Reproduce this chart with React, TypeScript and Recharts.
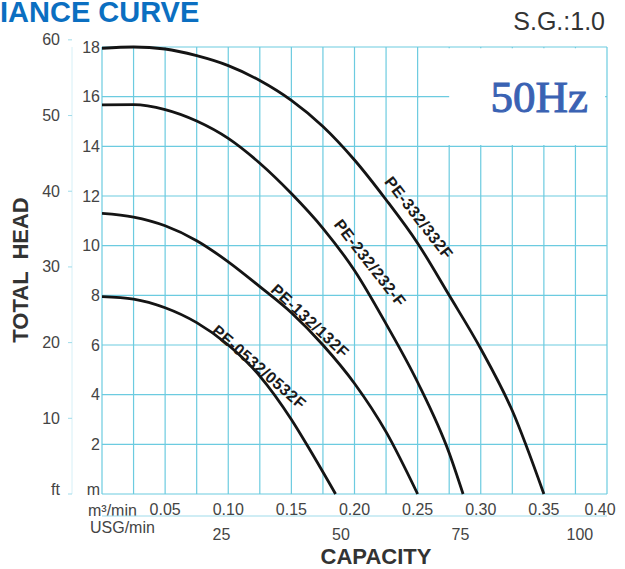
import React from 'react';
import {
  LineChart,
  Line,
  XAxis,
  YAxis,
  CartesianGrid,
  ReferenceArea,
  ReferenceLine,
  ReferenceDot,
} from 'recharts';

const GRID = '#6ccbe0';
const TEXT = '#444444';
const DARK = '#333333';
const FONT = '"Liberation Sans", Arial, Helvetica, sans-serif';

// ---- axes / ticks ----
const capacityGrid = [0, 0.025, 0.05, 0.075, 0.1, 0.125, 0.15, 0.175, 0.2, 0.225, 0.25, 0.275, 0.3, 0.325, 0.35, 0.375, 0.4];
const capacityLabels = [0.05, 0.1, 0.15, 0.2, 0.25, 0.3, 0.35, 0.4];
const usgTicks = [25, 50, 75, 100];
const usgRange = [0, 105.669]; // 0 .. 0.40 m3/min expressed in USG/min
const headMTicks = [0, 2, 4, 6, 8, 10, 12, 14, 16, 18];
const headFtTicks = [0, 10, 20, 30, 40, 50, 60];

// ---- series (capacity m3/min -> head m) ----
const q332 = [0, 0.025, 0.05, 0.075, 0.1, 0.125, 0.15, 0.175, 0.2, 0.225, 0.25, 0.275, 0.3, 0.325, 0.35];
const h332 = [17.95, 18.0, 17.92, 17.65, 17.25, 16.65, 15.85, 14.8, 13.45, 11.85, 10.1, 8.0, 5.85, 3.35, 0];

const q232 = [0, 0.025, 0.05, 0.075, 0.1, 0.125, 0.15, 0.175, 0.2, 0.225, 0.25, 0.275, 0.286];
const h232 = [15.67, 15.68, 15.48, 15.02, 14.32, 13.32, 12.1, 10.7, 9.0, 6.85, 4.5, 1.65, 0];

const q132 = [0, 0.025, 0.05, 0.075, 0.1, 0.125, 0.15, 0.175, 0.2, 0.225, 0.25];
const h132 = [11.3, 11.15, 10.8, 10.2, 9.35, 8.35, 7.3, 6.0, 4.45, 2.5, 0];

const q0532 = [0, 0.025, 0.05, 0.075, 0.1, 0.125, 0.15, 0.165, 0.185];
const h0532 = [7.95, 7.85, 7.5, 6.9, 6.0, 4.75, 3.0, 1.75, 0];

const seriesNames = ['PE-332/332F', 'PE-232/232-F', 'PE-132/132F', 'PE-0532/0532F'];

const toData = (qs: number[], hs: number[]) => qs.map((q, i) => ({ q, h: hs[i] }));
const series = [
  { name: seriesNames[0], data: toData(q332, h332) },
  { name: seriesNames[1], data: toData(q232, h232) },
  { name: seriesNames[2], data: toData(q132, h132) },
  { name: seriesNames[3], data: toData(q0532, h0532) },
];
// helper (invisible) data so the USG axis knows its extent
const usgData = usgRange.map((usg) => ({ usg, h: null as number | null }));

// label anchors (data units) and rotation
const curveLabels = [
  { name: seriesNames[0], q: 0.251, h: 11.12, angle: 52 },
  { name: seriesNames[1], q: 0.2123, h: 9.3, angle: 52 },
  { name: seriesNames[2], q: 0.1648, h: 6.97, angle: 43 },
  { name: seriesNames[3], q: 0.1244, h: 5.11, angle: 41 },
];

const M_ID = 'm';
const FT_ID = 'secondaryFt';

const CapTick = (props: any) => {
  const { x, y, payload } = props;
  const v = payload.value;
  const idx = capacityLabels.findIndex((c) => Math.abs(c - v) < 1e-6);
  if (idx < 0) return <g />;
  const last = idx === capacityLabels.length - 1;
  return (
    <text
      x={last ? x - 7 : x}
      y={y + 15}
      textAnchor="middle"
      dominantBaseline="central"
      fill={TEXT}
      fontSize={16}
      fontFamily={FONT}
    >
      {v.toFixed(2)}
    </text>
  );
};

const UsgTick = (props: any) => {
  const { x, y, payload } = props;
  return (
    <text x={x} y={y + 18} textAnchor="middle" dominantBaseline="central" fill={TEXT} fontSize={16} fontFamily={FONT}>
      {payload.value}
    </text>
  );
};

const makeHeadTick = (unit: string) => (props: any) => {
  const { x, y, payload } = props;
  const v = payload.value;
  const isUnit = v === 0;
  return (
    <text
      x={x}
      y={isUnit ? y - 5 : y}
      textAnchor="end"
      dominantBaseline="central"
      fill={TEXT}
      fontSize={16}
      fontFamily={FONT}
    >
      {isUnit ? unit : String(v)}
    </text>
  );
};
const MTick = makeHeadTick('m');
const FtTick = makeHeadTick('ft');

const capLabel = (p: any) => {
  const vb = p.viewBox;
  return (
    <text x={vb.x - 14} y={vb.y + 16} dominantBaseline="central" fill={TEXT} fontSize={16} fontFamily={FONT}>
      m³/min
    </text>
  );
};

const usgLabel = (p: any) => {
  const vb = p.viewBox;
  return (
    <g>
      <text x={vb.x - 12} y={vb.y + 11} dominantBaseline="central" fill={TEXT} fontSize={16} fontFamily={FONT}>
        USG/min
      </text>
      <text x={vb.x + 274} y={vb.y + 48} textAnchor="middle" fill={DARK} fontSize={22} fontWeight="bold" fontFamily={FONT}>
        CAPACITY
      </text>
    </g>
  );
};

const headLabel = (p: any) => {
  const vb = p.viewBox;
  const cx = 20;
  const cy = vb.y + 223;
  return (
    <text
      x={cx}
      y={cy}
      transform={`rotate(-90 ${cx} ${cy})`}
      textAnchor="middle"
      dominantBaseline="central"
      fill={DARK}
      fontSize={22}
      fontWeight="bold"
      fontFamily={FONT}
      style={{ whiteSpace: 'pre' }}
    >
      {'TOTAL  HEAD'}
    </text>
  );
};

const hzLabel = (p: any) => {
  const vb = p.viewBox;
  return (
    <text
      x={vb.x + vb.width - 17}
      y={vb.y + 64}
      textAnchor="end"
      fill="#3a62b3"
      stroke="#3a62b3"
      strokeWidth={1}
      fontSize={45}
      fontFamily='"Liberation Serif", "DejaVu Serif", serif'
    >
      50Hz
    </text>
  );
};

const makeCurveLabel = (text: string, angle: number) => (p: any) => {
  const { x, y } = p.viewBox;
  return (
    <text
      x={x}
      y={y}
      transform={`rotate(${angle} ${x} ${y})`}
      textAnchor="middle"
      dominantBaseline="central"
      fontSize={16}
      fontWeight="bold"
      fontFamily={FONT}
      fill="#1a1a1a"
      letterSpacing={0.5}
    >
      {text}
    </text>
  );
};

export default function App() {
  return (
    <div style={{ position: 'absolute', left: 0, top: 0, width: 625, height: 569, background: '#fff' }}>
      <LineChart width={625} height={569} margin={{ top: 47, right: 18, bottom: 0, left: 32 }}>
        <XAxis
          xAxisId="q"
          dataKey="q"
          type="number"
          domain={[0, 0.4]}
          ticks={capacityGrid}
          interval={0}
          allowDataOverflow
          axisLine={false}
          tickLine={false}
          tickSize={0}
          tickMargin={0}
          height={22}
          tick={<CapTick />}
          label={capLabel}
        />
        <XAxis
          xAxisId="usg"
          dataKey="usg"
          type="number"
          domain={usgRange}
          ticks={usgTicks}
          interval={0}
          allowDataOverflow
          axisLine={{ stroke: '#9fdbea', strokeWidth: 1 }}
          tickLine={false}
          tickSize={0}
          tickMargin={0}
          height={53}
          tick={<UsgTick />}
          label={usgLabel}
        />
        <YAxis
          yAxisId={M_ID}
          type="number"
          domain={[0, 18]}
          ticks={headMTicks}
          interval={0}
          width={30}
          axisLine={false}
          tickLine={false}
          tickSize={0}
          tickMargin={2}
          tick={<MTick />}
        />
        <YAxis
          yAxisId={FT_ID}
          type="number"
          domain={[0, 59.055]}
          ticks={headFtTicks}
          interval={0}
          allowDataOverflow
          width={40}
          axisLine={{ stroke: '#d6f0f7' }}
          tickLine={{ stroke: '#9fdbea' }}
          tickSize={4}
          tickMargin={8}
          tick={<FtTick />}
          label={headLabel}
        />
        <CartesianGrid xAxisId="q" yAxisId={M_ID} stroke={GRID} strokeWidth={1.2} />
        <ReferenceArea
          xAxisId="q"
          yAxisId={M_ID}
          x1={0.2515}
          x2={0.3985}
          y1={14.05}
          y2={17.95}
          fill="#ffffff"
          fillOpacity={1}
          stroke="none"
          ifOverflow="visible"
          label={hzLabel}
        />
        <ReferenceLine
          xAxisId="q"
          yAxisId={M_ID}
          segment={[
            { x: 0.25, y: 16 },
            { x: 0.275, y: 16 },
          ]}
          stroke={GRID}
          strokeWidth={1.2}
        />
        <Line
          xAxisId="usg"
          yAxisId={M_ID}
          data={usgData}
          dataKey="h"
          stroke="none"
          dot={false}
          activeDot={false}
          legendType="none"
          isAnimationActive={false}
        />
        {series.map((s) => (
          <Line
            key={s.name}
            xAxisId="q"
            yAxisId={M_ID}
            data={s.data}
            dataKey="h"
            name={s.name}
            type="monotone"
            stroke="#141414"
            strokeWidth={2.8}
            dot={false}
            activeDot={false}
            isAnimationActive={false}
          />
        ))}
        {curveLabels.map((l) => (
          <ReferenceDot
            key={l.name}
            xAxisId="q"
            yAxisId={M_ID}
            x={l.q}
            y={l.h}
            r={0}
            fill="none"
            stroke="none"
            ifOverflow="visible"
            label={makeCurveLabel(l.name, l.angle)}
          />
        ))}
      </LineChart>
      <svg
        width={625}
        height={569}
        style={{ position: 'absolute', left: 0, top: 0, pointerEvents: 'none' }}
      >
        <text x={0} y={22} fill="#0b6fc1" fontSize={29} fontWeight="bold" fontFamily={FONT}>
          IANCE CURVE
        </text>
        <text x={605} y={30} textAnchor="end" fill={DARK} fontSize={25} fontFamily={FONT}>
          S.G.:1.0
        </text>
      </svg>
    </div>
  );
}
